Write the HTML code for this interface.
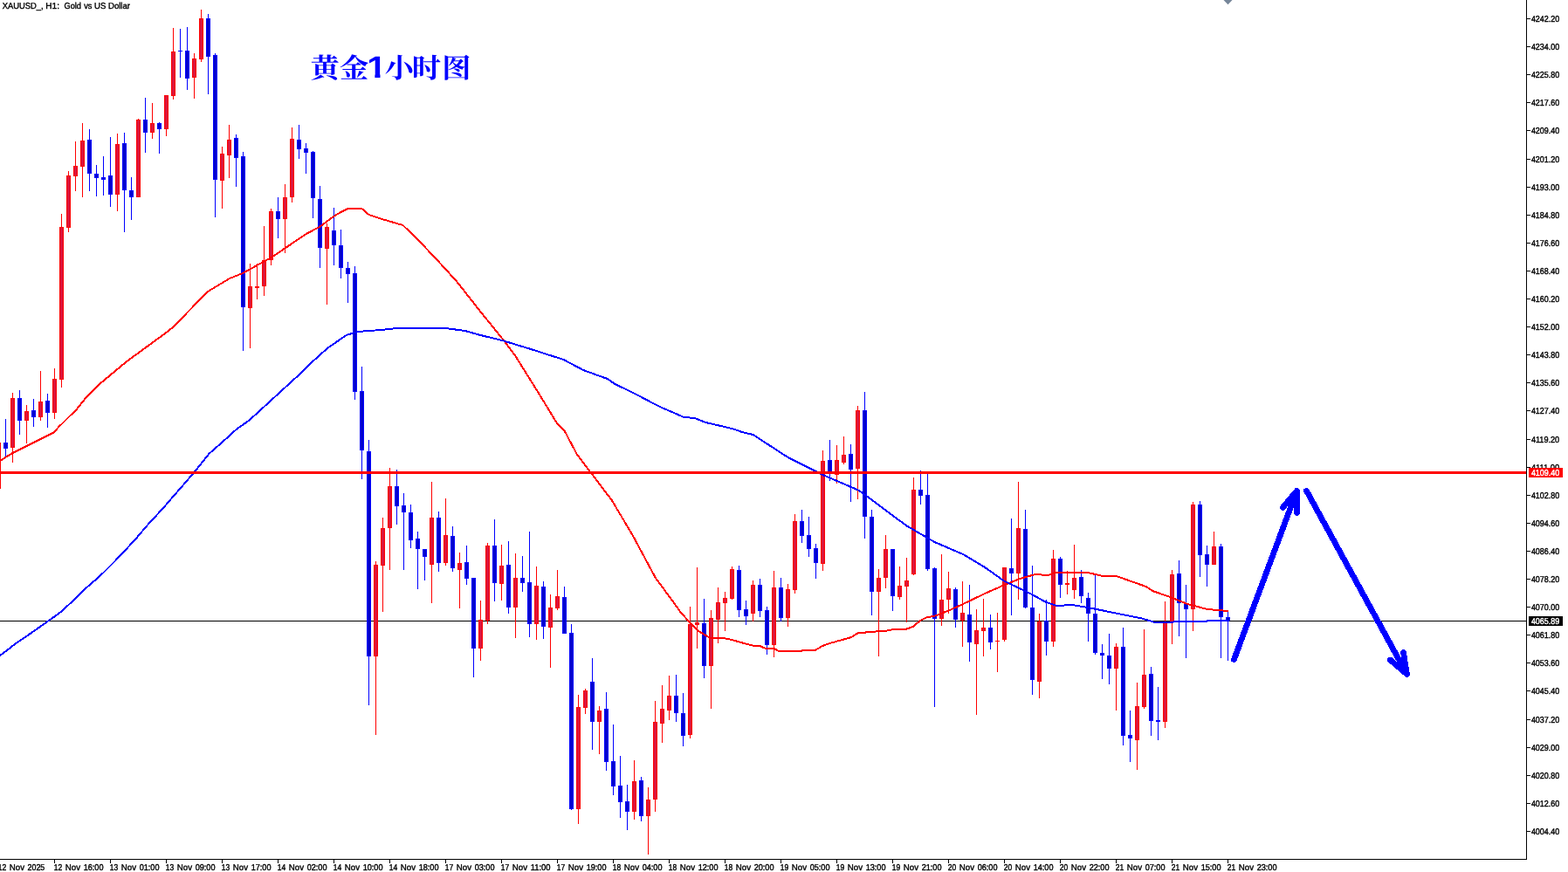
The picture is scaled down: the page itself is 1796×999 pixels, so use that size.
<!DOCTYPE html>
<html lang="zh"><head><meta charset="utf-8"><title>XAUUSD_, H1: Gold vs US Dollar</title>
<style>html,body{margin:0;padding:0;background:#fff;overflow:hidden}body{width:1796px;height:999px}svg{display:block}text{font-family:"Liberation Sans","Noto Sans CJK SC",sans-serif;text-rendering:geometricPrecision}.s{font-size:10px;stroke-width:0.4px}.k{fill:#000;stroke:#000}.w{fill:#fff;stroke:#fff}.c{font-family:"Noto Serif CJK SC","Liberation Sans",serif;font-weight:700;font-size:31.3px;fill:#00f}.r{fill:#f00}.rf{fill:#dc143c}.b{fill:#00f}.bf{fill:#0000cd}</style></head><body>
<svg width="1796" height="999" viewBox="0 0 1796 999">
<rect width="1796" height="999" fill="#fff"/>
<rect x="0" y="711" width="1748" height="1" fill="#000"/>
<g id="candles" shape-rendering="crispEdges">
<rect class="r" x="-4" y="507" width="5" height="53"/>
<rect class="rf" x="-3" y="508" width="3" height="51"/>
<rect class="b" x="6" y="480" width="1" height="44"/>
<rect class="b" x="4" y="507" width="5" height="7"/>
<rect class="bf" x="5" y="508" width="3" height="5"/>
<rect class="r" x="14" y="450" width="1" height="80"/>
<rect class="r" x="12" y="456" width="5" height="57"/>
<rect class="rf" x="13" y="457" width="3" height="55"/>
<rect class="b" x="22" y="447" width="1" height="51"/>
<rect class="b" x="20" y="456" width="5" height="26"/>
<rect class="bf" x="21" y="457" width="3" height="24"/>
<rect class="r" x="30" y="464" width="1" height="44"/>
<rect class="r" x="28" y="471" width="5" height="11"/>
<rect class="rf" x="29" y="472" width="3" height="9"/>
<rect class="b" x="38" y="457" width="1" height="32"/>
<rect class="b" x="36" y="470" width="5" height="8"/>
<rect class="bf" x="37" y="471" width="3" height="6"/>
<rect class="r" x="46" y="425" width="1" height="57"/>
<rect class="r" x="44" y="460" width="5" height="18"/>
<rect class="rf" x="45" y="461" width="3" height="16"/>
<rect class="b" x="54" y="451" width="1" height="39"/>
<rect class="b" x="52" y="459" width="5" height="14"/>
<rect class="bf" x="53" y="460" width="3" height="12"/>
<rect class="r" x="62" y="422" width="1" height="58"/>
<rect class="r" x="60" y="434" width="5" height="39"/>
<rect class="rf" x="61" y="435" width="3" height="37"/>
<rect class="r" x="70" y="245" width="1" height="199"/>
<rect class="r" x="68" y="260" width="5" height="175"/>
<rect class="rf" x="69" y="261" width="3" height="173"/>
<rect class="r" x="78" y="196" width="1" height="70"/>
<rect class="r" x="76" y="201" width="5" height="60"/>
<rect class="rf" x="77" y="202" width="3" height="58"/>
<rect class="r" x="86" y="162" width="1" height="57"/>
<rect class="r" x="84" y="190" width="5" height="12"/>
<rect class="rf" x="85" y="191" width="3" height="10"/>
<rect class="r" x="94" y="141" width="1" height="85"/>
<rect class="r" x="92" y="161" width="5" height="30"/>
<rect class="rf" x="93" y="162" width="3" height="28"/>
<rect class="b" x="102" y="148" width="1" height="71"/>
<rect class="b" x="100" y="160" width="5" height="39"/>
<rect class="bf" x="101" y="161" width="3" height="37"/>
<rect class="b" x="110" y="189" width="1" height="36"/>
<rect class="b" x="108" y="199" width="5" height="5"/>
<rect class="bf" x="109" y="200" width="3" height="3"/>
<rect class="b" x="118" y="179" width="1" height="45"/>
<rect class="b" x="116" y="203" width="5" height="3"/>
<rect class="bf" x="117" y="204" width="3" height="1"/>
<rect class="b" x="126" y="157" width="1" height="80"/>
<rect class="b" x="124" y="201" width="5" height="22"/>
<rect class="bf" x="125" y="202" width="3" height="20"/>
<rect class="r" x="134" y="153" width="1" height="89"/>
<rect class="r" x="132" y="165" width="5" height="58"/>
<rect class="rf" x="133" y="166" width="3" height="56"/>
<rect class="b" x="142" y="152" width="1" height="114"/>
<rect class="b" x="140" y="164" width="5" height="54"/>
<rect class="bf" x="141" y="165" width="3" height="52"/>
<rect class="b" x="150" y="203" width="1" height="49"/>
<rect class="b" x="148" y="218" width="5" height="8"/>
<rect class="bf" x="149" y="219" width="3" height="6"/>
<rect class="r" x="158" y="136" width="1" height="90"/>
<rect class="r" x="156" y="137" width="5" height="89"/>
<rect class="rf" x="157" y="138" width="3" height="87"/>
<rect class="b" x="166" y="112" width="1" height="63"/>
<rect class="b" x="164" y="137" width="5" height="15"/>
<rect class="bf" x="165" y="138" width="3" height="13"/>
<rect class="r" x="174" y="118" width="1" height="41"/>
<rect class="r" x="172" y="141" width="5" height="11"/>
<rect class="rf" x="173" y="142" width="3" height="9"/>
<rect class="b" x="182" y="140" width="1" height="36"/>
<rect class="b" x="180" y="141" width="5" height="7"/>
<rect class="bf" x="181" y="142" width="3" height="5"/>
<rect class="r" x="190" y="109" width="1" height="47"/>
<rect class="r" x="188" y="109" width="5" height="39"/>
<rect class="rf" x="189" y="110" width="3" height="37"/>
<rect class="r" x="198" y="32" width="1" height="82"/>
<rect class="r" x="196" y="59" width="5" height="51"/>
<rect class="rf" x="197" y="60" width="3" height="49"/>
<rect class="b" x="206" y="33" width="1" height="56"/>
<rect class="b" x="204" y="58" width="5" height="1"/>
<rect class="b" x="214" y="31" width="1" height="72"/>
<rect class="b" x="212" y="58" width="5" height="32"/>
<rect class="bf" x="213" y="59" width="3" height="30"/>
<rect class="r" x="222" y="61" width="1" height="52"/>
<rect class="r" x="220" y="67" width="5" height="22"/>
<rect class="rf" x="221" y="68" width="3" height="20"/>
<rect class="r" x="230" y="11" width="1" height="60"/>
<rect class="r" x="228" y="21" width="5" height="47"/>
<rect class="rf" x="229" y="22" width="3" height="45"/>
<rect class="b" x="238" y="16" width="1" height="92"/>
<rect class="b" x="236" y="21" width="5" height="44"/>
<rect class="bf" x="237" y="22" width="3" height="42"/>
<rect class="b" x="246" y="61" width="1" height="188"/>
<rect class="b" x="244" y="63" width="5" height="143"/>
<rect class="bf" x="245" y="64" width="3" height="141"/>
<rect class="r" x="254" y="168" width="1" height="71"/>
<rect class="r" x="252" y="176" width="5" height="31"/>
<rect class="rf" x="253" y="177" width="3" height="29"/>
<rect class="r" x="262" y="143" width="1" height="61"/>
<rect class="r" x="260" y="160" width="5" height="18"/>
<rect class="rf" x="261" y="161" width="3" height="16"/>
<rect class="b" x="270" y="154" width="1" height="60"/>
<rect class="b" x="268" y="158" width="5" height="23"/>
<rect class="bf" x="269" y="159" width="3" height="21"/>
<rect class="b" x="278" y="174" width="1" height="228"/>
<rect class="b" x="276" y="179" width="5" height="173"/>
<rect class="bf" x="277" y="180" width="3" height="171"/>
<rect class="r" x="286" y="302" width="1" height="97"/>
<rect class="r" x="284" y="328" width="5" height="25"/>
<rect class="rf" x="285" y="329" width="3" height="23"/>
<rect class="r" x="294" y="302" width="1" height="41"/>
<rect class="r" x="292" y="328" width="5" height="2"/>
<rect class="r" x="302" y="259" width="1" height="80"/>
<rect class="r" x="300" y="298" width="5" height="30"/>
<rect class="rf" x="301" y="299" width="3" height="28"/>
<rect class="r" x="310" y="239" width="1" height="65"/>
<rect class="r" x="308" y="242" width="5" height="56"/>
<rect class="rf" x="309" y="243" width="3" height="54"/>
<rect class="b" x="318" y="226" width="1" height="47"/>
<rect class="b" x="316" y="242" width="5" height="9"/>
<rect class="bf" x="317" y="243" width="3" height="7"/>
<rect class="r" x="326" y="211" width="1" height="79"/>
<rect class="r" x="324" y="226" width="5" height="25"/>
<rect class="rf" x="325" y="227" width="3" height="23"/>
<rect class="r" x="334" y="146" width="1" height="86"/>
<rect class="r" x="332" y="159" width="5" height="67"/>
<rect class="rf" x="333" y="160" width="3" height="65"/>
<rect class="b" x="342" y="143" width="1" height="39"/>
<rect class="b" x="340" y="160" width="5" height="11"/>
<rect class="bf" x="341" y="161" width="3" height="9"/>
<rect class="b" x="350" y="164" width="1" height="35"/>
<rect class="b" x="348" y="170" width="5" height="5"/>
<rect class="bf" x="349" y="171" width="3" height="3"/>
<rect class="b" x="358" y="173" width="1" height="77"/>
<rect class="b" x="356" y="174" width="5" height="53"/>
<rect class="bf" x="357" y="175" width="3" height="51"/>
<rect class="b" x="366" y="213" width="1" height="94"/>
<rect class="b" x="364" y="228" width="5" height="56"/>
<rect class="bf" x="365" y="229" width="3" height="54"/>
<rect class="r" x="374" y="256" width="1" height="93"/>
<rect class="r" x="372" y="260" width="5" height="25"/>
<rect class="rf" x="373" y="261" width="3" height="23"/>
<rect class="b" x="382" y="238" width="1" height="66"/>
<rect class="b" x="380" y="264" width="5" height="17"/>
<rect class="bf" x="381" y="265" width="3" height="15"/>
<rect class="b" x="390" y="263" width="1" height="56"/>
<rect class="b" x="388" y="281" width="5" height="26"/>
<rect class="bf" x="389" y="282" width="3" height="24"/>
<rect class="b" x="398" y="300" width="1" height="47"/>
<rect class="b" x="396" y="307" width="5" height="7"/>
<rect class="bf" x="397" y="308" width="3" height="5"/>
<rect class="b" x="406" y="305" width="1" height="153"/>
<rect class="b" x="404" y="313" width="5" height="136"/>
<rect class="bf" x="405" y="314" width="3" height="134"/>
<rect class="b" x="414" y="420" width="1" height="129"/>
<rect class="b" x="412" y="448" width="5" height="68"/>
<rect class="bf" x="413" y="449" width="3" height="66"/>
<rect class="b" x="422" y="504" width="1" height="304"/>
<rect class="b" x="420" y="517" width="5" height="235"/>
<rect class="bf" x="421" y="518" width="3" height="233"/>
<rect class="r" x="430" y="643" width="1" height="199"/>
<rect class="r" x="428" y="647" width="5" height="105"/>
<rect class="rf" x="429" y="648" width="3" height="103"/>
<rect class="r" x="438" y="593" width="1" height="108"/>
<rect class="r" x="436" y="605" width="5" height="43"/>
<rect class="rf" x="437" y="606" width="3" height="41"/>
<rect class="r" x="446" y="536" width="1" height="117"/>
<rect class="r" x="444" y="557" width="5" height="48"/>
<rect class="rf" x="445" y="558" width="3" height="46"/>
<rect class="b" x="454" y="538" width="1" height="63"/>
<rect class="b" x="452" y="557" width="5" height="23"/>
<rect class="bf" x="453" y="558" width="3" height="21"/>
<rect class="b" x="462" y="565" width="1" height="88"/>
<rect class="b" x="460" y="579" width="5" height="8"/>
<rect class="bf" x="461" y="580" width="3" height="6"/>
<rect class="b" x="470" y="578" width="1" height="50"/>
<rect class="b" x="468" y="587" width="5" height="32"/>
<rect class="bf" x="469" y="588" width="3" height="30"/>
<rect class="b" x="478" y="609" width="1" height="66"/>
<rect class="b" x="476" y="617" width="5" height="12"/>
<rect class="bf" x="477" y="618" width="3" height="10"/>
<rect class="b" x="486" y="629" width="1" height="36"/>
<rect class="b" x="484" y="629" width="5" height="9"/>
<rect class="bf" x="485" y="630" width="3" height="7"/>
<rect class="r" x="494" y="552" width="1" height="139"/>
<rect class="r" x="492" y="593" width="5" height="54"/>
<rect class="rf" x="493" y="594" width="3" height="52"/>
<rect class="b" x="502" y="586" width="1" height="69"/>
<rect class="b" x="500" y="593" width="5" height="52"/>
<rect class="bf" x="501" y="594" width="3" height="50"/>
<rect class="r" x="510" y="571" width="1" height="77"/>
<rect class="r" x="508" y="613" width="5" height="32"/>
<rect class="rf" x="509" y="614" width="3" height="30"/>
<rect class="b" x="518" y="603" width="1" height="52"/>
<rect class="b" x="516" y="614" width="5" height="37"/>
<rect class="bf" x="517" y="615" width="3" height="35"/>
<rect class="r" x="526" y="633" width="1" height="64"/>
<rect class="r" x="524" y="645" width="5" height="8"/>
<rect class="rf" x="525" y="646" width="3" height="6"/>
<rect class="b" x="534" y="625" width="1" height="45"/>
<rect class="b" x="532" y="644" width="5" height="19"/>
<rect class="bf" x="533" y="645" width="3" height="17"/>
<rect class="b" x="542" y="662" width="1" height="114"/>
<rect class="b" x="540" y="662" width="5" height="81"/>
<rect class="bf" x="541" y="663" width="3" height="79"/>
<rect class="r" x="550" y="688" width="1" height="69"/>
<rect class="r" x="548" y="710" width="5" height="33"/>
<rect class="rf" x="549" y="711" width="3" height="31"/>
<rect class="r" x="558" y="622" width="1" height="93"/>
<rect class="r" x="556" y="625" width="5" height="86"/>
<rect class="rf" x="557" y="626" width="3" height="84"/>
<rect class="b" x="566" y="595" width="1" height="94"/>
<rect class="b" x="564" y="625" width="5" height="43"/>
<rect class="bf" x="565" y="626" width="3" height="41"/>
<rect class="r" x="574" y="624" width="1" height="64"/>
<rect class="r" x="572" y="648" width="5" height="21"/>
<rect class="rf" x="573" y="649" width="3" height="19"/>
<rect class="b" x="582" y="620" width="1" height="83"/>
<rect class="b" x="580" y="647" width="5" height="49"/>
<rect class="bf" x="581" y="648" width="3" height="47"/>
<rect class="r" x="590" y="634" width="1" height="97"/>
<rect class="r" x="588" y="662" width="5" height="34"/>
<rect class="rf" x="589" y="663" width="3" height="32"/>
<rect class="b" x="598" y="637" width="1" height="41"/>
<rect class="b" x="596" y="662" width="5" height="6"/>
<rect class="bf" x="597" y="663" width="3" height="4"/>
<rect class="b" x="606" y="609" width="1" height="121"/>
<rect class="b" x="604" y="667" width="5" height="48"/>
<rect class="bf" x="605" y="668" width="3" height="46"/>
<rect class="r" x="614" y="649" width="1" height="84"/>
<rect class="r" x="612" y="671" width="5" height="44"/>
<rect class="rf" x="613" y="672" width="3" height="42"/>
<rect class="b" x="622" y="666" width="1" height="66"/>
<rect class="b" x="620" y="672" width="5" height="46"/>
<rect class="bf" x="621" y="673" width="3" height="44"/>
<rect class="r" x="630" y="681" width="1" height="84"/>
<rect class="r" x="628" y="696" width="5" height="23"/>
<rect class="rf" x="629" y="697" width="3" height="21"/>
<rect class="r" x="638" y="653" width="1" height="46"/>
<rect class="r" x="636" y="683" width="5" height="14"/>
<rect class="rf" x="637" y="684" width="3" height="12"/>
<rect class="b" x="646" y="672" width="1" height="54"/>
<rect class="b" x="644" y="684" width="5" height="42"/>
<rect class="bf" x="645" y="685" width="3" height="40"/>
<rect class="b" x="654" y="715" width="1" height="213"/>
<rect class="b" x="652" y="725" width="5" height="202"/>
<rect class="bf" x="653" y="726" width="3" height="200"/>
<rect class="r" x="662" y="796" width="1" height="148"/>
<rect class="r" x="660" y="810" width="5" height="117"/>
<rect class="rf" x="661" y="811" width="3" height="115"/>
<rect class="r" x="670" y="789" width="1" height="29"/>
<rect class="r" x="668" y="791" width="5" height="20"/>
<rect class="rf" x="669" y="792" width="3" height="18"/>
<rect class="b" x="678" y="754" width="1" height="105"/>
<rect class="b" x="676" y="781" width="5" height="46"/>
<rect class="bf" x="677" y="782" width="3" height="44"/>
<rect class="r" x="686" y="809" width="1" height="55"/>
<rect class="r" x="684" y="814" width="5" height="13"/>
<rect class="rf" x="685" y="815" width="3" height="11"/>
<rect class="b" x="694" y="793" width="1" height="90"/>
<rect class="b" x="692" y="812" width="5" height="61"/>
<rect class="bf" x="693" y="813" width="3" height="59"/>
<rect class="b" x="702" y="830" width="1" height="81"/>
<rect class="b" x="700" y="872" width="5" height="29"/>
<rect class="bf" x="701" y="873" width="3" height="27"/>
<rect class="b" x="710" y="866" width="1" height="71"/>
<rect class="b" x="708" y="900" width="5" height="19"/>
<rect class="bf" x="709" y="901" width="3" height="17"/>
<rect class="b" x="718" y="899" width="1" height="52"/>
<rect class="b" x="716" y="918" width="5" height="12"/>
<rect class="bf" x="717" y="919" width="3" height="10"/>
<rect class="r" x="726" y="871" width="1" height="68"/>
<rect class="r" x="724" y="895" width="5" height="35"/>
<rect class="rf" x="725" y="896" width="3" height="33"/>
<rect class="b" x="734" y="890" width="1" height="51"/>
<rect class="b" x="732" y="894" width="5" height="41"/>
<rect class="bf" x="733" y="895" width="3" height="39"/>
<rect class="r" x="742" y="902" width="1" height="77"/>
<rect class="r" x="740" y="916" width="5" height="19"/>
<rect class="rf" x="741" y="917" width="3" height="17"/>
<rect class="r" x="750" y="803" width="1" height="127"/>
<rect class="r" x="748" y="827" width="5" height="89"/>
<rect class="rf" x="749" y="828" width="3" height="87"/>
<rect class="r" x="758" y="785" width="1" height="66"/>
<rect class="r" x="756" y="812" width="5" height="17"/>
<rect class="rf" x="757" y="813" width="3" height="15"/>
<rect class="r" x="766" y="774" width="1" height="51"/>
<rect class="r" x="764" y="797" width="5" height="17"/>
<rect class="rf" x="765" y="798" width="3" height="15"/>
<rect class="b" x="774" y="773" width="1" height="54"/>
<rect class="b" x="772" y="797" width="5" height="20"/>
<rect class="bf" x="773" y="798" width="3" height="18"/>
<rect class="b" x="782" y="794" width="1" height="61"/>
<rect class="b" x="780" y="817" width="5" height="26"/>
<rect class="bf" x="781" y="818" width="3" height="24"/>
<rect class="r" x="790" y="695" width="1" height="151"/>
<rect class="r" x="788" y="715" width="5" height="127"/>
<rect class="rf" x="789" y="716" width="3" height="125"/>
<rect class="r" x="798" y="650" width="1" height="93"/>
<rect class="r" x="796" y="713" width="5" height="3"/>
<rect class="rf" x="797" y="714" width="3" height="1"/>
<rect class="b" x="806" y="686" width="1" height="91"/>
<rect class="b" x="804" y="714" width="5" height="49"/>
<rect class="bf" x="805" y="715" width="3" height="47"/>
<rect class="r" x="814" y="699" width="1" height="113"/>
<rect class="r" x="812" y="708" width="5" height="55"/>
<rect class="rf" x="813" y="709" width="3" height="53"/>
<rect class="r" x="822" y="673" width="1" height="64"/>
<rect class="r" x="820" y="690" width="5" height="20"/>
<rect class="rf" x="821" y="691" width="3" height="18"/>
<rect class="r" x="830" y="678" width="1" height="45"/>
<rect class="r" x="828" y="685" width="5" height="6"/>
<rect class="rf" x="829" y="686" width="3" height="4"/>
<rect class="r" x="838" y="649" width="1" height="38"/>
<rect class="r" x="836" y="652" width="5" height="34"/>
<rect class="rf" x="837" y="653" width="3" height="32"/>
<rect class="b" x="846" y="648" width="1" height="59"/>
<rect class="b" x="844" y="653" width="5" height="46"/>
<rect class="bf" x="845" y="654" width="3" height="44"/>
<rect class="b" x="854" y="688" width="1" height="28"/>
<rect class="b" x="852" y="698" width="5" height="8"/>
<rect class="bf" x="853" y="699" width="3" height="6"/>
<rect class="r" x="862" y="665" width="1" height="47"/>
<rect class="r" x="860" y="670" width="5" height="33"/>
<rect class="rf" x="861" y="671" width="3" height="31"/>
<rect class="b" x="870" y="663" width="1" height="44"/>
<rect class="b" x="868" y="670" width="5" height="30"/>
<rect class="bf" x="869" y="671" width="3" height="28"/>
<rect class="b" x="878" y="695" width="1" height="55"/>
<rect class="b" x="876" y="699" width="5" height="40"/>
<rect class="bf" x="877" y="700" width="3" height="38"/>
<rect class="r" x="886" y="654" width="1" height="99"/>
<rect class="r" x="884" y="673" width="5" height="66"/>
<rect class="rf" x="885" y="674" width="3" height="64"/>
<rect class="b" x="894" y="662" width="1" height="50"/>
<rect class="b" x="892" y="673" width="5" height="35"/>
<rect class="bf" x="893" y="674" width="3" height="33"/>
<rect class="r" x="902" y="669" width="1" height="49"/>
<rect class="r" x="900" y="675" width="5" height="33"/>
<rect class="rf" x="901" y="676" width="3" height="31"/>
<rect class="r" x="910" y="589" width="1" height="91"/>
<rect class="r" x="908" y="597" width="5" height="79"/>
<rect class="rf" x="909" y="598" width="3" height="77"/>
<rect class="b" x="918" y="584" width="1" height="38"/>
<rect class="b" x="916" y="597" width="5" height="17"/>
<rect class="bf" x="917" y="598" width="3" height="15"/>
<rect class="b" x="926" y="592" width="1" height="46"/>
<rect class="b" x="924" y="613" width="5" height="16"/>
<rect class="bf" x="925" y="614" width="3" height="14"/>
<rect class="b" x="934" y="623" width="1" height="40"/>
<rect class="b" x="932" y="628" width="5" height="17"/>
<rect class="bf" x="933" y="629" width="3" height="15"/>
<rect class="r" x="942" y="516" width="1" height="138"/>
<rect class="r" x="940" y="528" width="5" height="118"/>
<rect class="rf" x="941" y="529" width="3" height="116"/>
<rect class="b" x="950" y="504" width="1" height="47"/>
<rect class="b" x="948" y="527" width="5" height="15"/>
<rect class="bf" x="949" y="528" width="3" height="13"/>
<rect class="r" x="958" y="510" width="1" height="44"/>
<rect class="r" x="956" y="527" width="5" height="17"/>
<rect class="rf" x="957" y="528" width="3" height="15"/>
<rect class="r" x="966" y="500" width="1" height="32"/>
<rect class="r" x="964" y="521" width="5" height="9"/>
<rect class="rf" x="965" y="522" width="3" height="7"/>
<rect class="b" x="974" y="509" width="1" height="66"/>
<rect class="b" x="972" y="520" width="5" height="18"/>
<rect class="bf" x="973" y="521" width="3" height="16"/>
<rect class="r" x="982" y="465" width="1" height="107"/>
<rect class="r" x="980" y="470" width="5" height="67"/>
<rect class="rf" x="981" y="471" width="3" height="65"/>
<rect class="b" x="990" y="449" width="1" height="168"/>
<rect class="b" x="988" y="470" width="5" height="122"/>
<rect class="bf" x="989" y="471" width="3" height="120"/>
<rect class="b" x="998" y="584" width="1" height="121"/>
<rect class="b" x="996" y="592" width="5" height="86"/>
<rect class="bf" x="997" y="593" width="3" height="84"/>
<rect class="r" x="1006" y="652" width="1" height="100"/>
<rect class="r" x="1004" y="662" width="5" height="16"/>
<rect class="rf" x="1005" y="663" width="3" height="14"/>
<rect class="r" x="1014" y="613" width="1" height="61"/>
<rect class="r" x="1012" y="629" width="5" height="33"/>
<rect class="rf" x="1013" y="630" width="3" height="31"/>
<rect class="b" x="1022" y="629" width="1" height="71"/>
<rect class="b" x="1020" y="629" width="5" height="54"/>
<rect class="bf" x="1021" y="630" width="3" height="52"/>
<rect class="r" x="1030" y="649" width="1" height="38"/>
<rect class="r" x="1028" y="671" width="5" height="13"/>
<rect class="rf" x="1029" y="672" width="3" height="11"/>
<rect class="r" x="1038" y="639" width="1" height="74"/>
<rect class="r" x="1036" y="665" width="5" height="7"/>
<rect class="rf" x="1037" y="666" width="3" height="5"/>
<rect class="r" x="1046" y="547" width="1" height="112"/>
<rect class="r" x="1044" y="561" width="5" height="97"/>
<rect class="rf" x="1045" y="562" width="3" height="95"/>
<rect class="b" x="1054" y="539" width="1" height="39"/>
<rect class="b" x="1052" y="561" width="5" height="7"/>
<rect class="bf" x="1053" y="562" width="3" height="5"/>
<rect class="b" x="1062" y="543" width="1" height="111"/>
<rect class="b" x="1060" y="567" width="5" height="85"/>
<rect class="bf" x="1061" y="568" width="3" height="83"/>
<rect class="b" x="1070" y="650" width="1" height="160"/>
<rect class="b" x="1068" y="651" width="5" height="58"/>
<rect class="bf" x="1069" y="652" width="3" height="56"/>
<rect class="r" x="1078" y="635" width="1" height="82"/>
<rect class="r" x="1076" y="687" width="5" height="22"/>
<rect class="rf" x="1077" y="688" width="3" height="20"/>
<rect class="r" x="1086" y="655" width="1" height="48"/>
<rect class="r" x="1084" y="674" width="5" height="13"/>
<rect class="rf" x="1085" y="675" width="3" height="11"/>
<rect class="b" x="1094" y="673" width="1" height="46"/>
<rect class="b" x="1092" y="675" width="5" height="35"/>
<rect class="bf" x="1093" y="676" width="3" height="33"/>
<rect class="r" x="1102" y="666" width="1" height="75"/>
<rect class="r" x="1100" y="702" width="5" height="9"/>
<rect class="rf" x="1101" y="703" width="3" height="7"/>
<rect class="b" x="1110" y="670" width="1" height="88"/>
<rect class="b" x="1108" y="704" width="5" height="32"/>
<rect class="bf" x="1109" y="705" width="3" height="30"/>
<rect class="r" x="1118" y="698" width="1" height="121"/>
<rect class="r" x="1116" y="722" width="5" height="16"/>
<rect class="rf" x="1117" y="723" width="3" height="14"/>
<rect class="r" x="1126" y="686" width="1" height="66"/>
<rect class="r" x="1124" y="719" width="5" height="4"/>
<rect class="rf" x="1125" y="720" width="3" height="2"/>
<rect class="b" x="1134" y="704" width="1" height="40"/>
<rect class="b" x="1132" y="719" width="5" height="17"/>
<rect class="bf" x="1133" y="720" width="3" height="15"/>
<rect class="r" x="1142" y="702" width="1" height="68"/>
<rect class="r" x="1140" y="734" width="5" height="1"/>
<rect class="r" x="1150" y="650" width="1" height="85"/>
<rect class="r" x="1148" y="650" width="5" height="83"/>
<rect class="rf" x="1149" y="651" width="3" height="81"/>
<rect class="b" x="1158" y="594" width="1" height="111"/>
<rect class="b" x="1156" y="651" width="5" height="6"/>
<rect class="bf" x="1157" y="652" width="3" height="4"/>
<rect class="r" x="1166" y="552" width="1" height="135"/>
<rect class="r" x="1164" y="605" width="5" height="52"/>
<rect class="rf" x="1165" y="606" width="3" height="50"/>
<rect class="b" x="1174" y="584" width="1" height="113"/>
<rect class="b" x="1172" y="606" width="5" height="90"/>
<rect class="bf" x="1173" y="607" width="3" height="88"/>
<rect class="b" x="1182" y="648" width="1" height="148"/>
<rect class="b" x="1180" y="696" width="5" height="83"/>
<rect class="bf" x="1181" y="697" width="3" height="81"/>
<rect class="r" x="1190" y="703" width="1" height="97"/>
<rect class="r" x="1188" y="712" width="5" height="69"/>
<rect class="rf" x="1189" y="713" width="3" height="67"/>
<rect class="b" x="1198" y="687" width="1" height="64"/>
<rect class="b" x="1196" y="711" width="5" height="24"/>
<rect class="bf" x="1197" y="712" width="3" height="22"/>
<rect class="r" x="1206" y="630" width="1" height="111"/>
<rect class="r" x="1204" y="640" width="5" height="95"/>
<rect class="rf" x="1205" y="641" width="3" height="93"/>
<rect class="b" x="1214" y="638" width="1" height="47"/>
<rect class="b" x="1212" y="640" width="5" height="30"/>
<rect class="bf" x="1213" y="641" width="3" height="28"/>
<rect class="r" x="1222" y="654" width="1" height="27"/>
<rect class="r" x="1220" y="668" width="5" height="2"/>
<rect class="r" x="1230" y="624" width="1" height="62"/>
<rect class="r" x="1228" y="662" width="5" height="14"/>
<rect class="rf" x="1229" y="663" width="3" height="12"/>
<rect class="b" x="1238" y="653" width="1" height="38"/>
<rect class="b" x="1236" y="661" width="5" height="22"/>
<rect class="bf" x="1237" y="662" width="3" height="20"/>
<rect class="b" x="1246" y="679" width="1" height="56"/>
<rect class="b" x="1244" y="685" width="5" height="18"/>
<rect class="bf" x="1245" y="686" width="3" height="16"/>
<rect class="b" x="1254" y="658" width="1" height="92"/>
<rect class="b" x="1252" y="703" width="5" height="45"/>
<rect class="bf" x="1253" y="704" width="3" height="43"/>
<rect class="b" x="1262" y="738" width="1" height="40"/>
<rect class="b" x="1260" y="748" width="5" height="3"/>
<rect class="bf" x="1261" y="749" width="3" height="1"/>
<rect class="b" x="1270" y="726" width="1" height="58"/>
<rect class="b" x="1268" y="751" width="5" height="15"/>
<rect class="bf" x="1269" y="752" width="3" height="13"/>
<rect class="r" x="1278" y="737" width="1" height="77"/>
<rect class="r" x="1276" y="741" width="5" height="25"/>
<rect class="rf" x="1277" y="742" width="3" height="23"/>
<rect class="b" x="1286" y="719" width="1" height="135"/>
<rect class="b" x="1284" y="741" width="5" height="102"/>
<rect class="bf" x="1285" y="742" width="3" height="100"/>
<rect class="b" x="1294" y="814" width="1" height="59"/>
<rect class="b" x="1292" y="842" width="5" height="4"/>
<rect class="bf" x="1293" y="843" width="3" height="2"/>
<rect class="r" x="1302" y="782" width="1" height="100"/>
<rect class="r" x="1300" y="809" width="5" height="39"/>
<rect class="rf" x="1301" y="810" width="3" height="37"/>
<rect class="r" x="1310" y="721" width="1" height="91"/>
<rect class="r" x="1308" y="773" width="5" height="37"/>
<rect class="rf" x="1309" y="774" width="3" height="35"/>
<rect class="b" x="1318" y="764" width="1" height="79"/>
<rect class="b" x="1316" y="772" width="5" height="54"/>
<rect class="bf" x="1317" y="773" width="3" height="52"/>
<rect class="b" x="1326" y="787" width="1" height="61"/>
<rect class="b" x="1324" y="825" width="5" height="2"/>
<rect class="r" x="1334" y="689" width="1" height="145"/>
<rect class="r" x="1332" y="713" width="5" height="114"/>
<rect class="rf" x="1333" y="714" width="3" height="112"/>
<rect class="r" x="1342" y="653" width="1" height="85"/>
<rect class="r" x="1340" y="658" width="5" height="55"/>
<rect class="rf" x="1341" y="659" width="3" height="53"/>
<rect class="b" x="1350" y="642" width="1" height="87"/>
<rect class="b" x="1348" y="657" width="5" height="34"/>
<rect class="bf" x="1349" y="658" width="3" height="32"/>
<rect class="b" x="1358" y="670" width="1" height="84"/>
<rect class="b" x="1356" y="691" width="5" height="7"/>
<rect class="bf" x="1357" y="692" width="3" height="5"/>
<rect class="r" x="1366" y="575" width="1" height="148"/>
<rect class="r" x="1364" y="578" width="5" height="120"/>
<rect class="rf" x="1365" y="579" width="3" height="118"/>
<rect class="b" x="1374" y="574" width="1" height="87"/>
<rect class="b" x="1372" y="578" width="5" height="58"/>
<rect class="bf" x="1373" y="579" width="3" height="56"/>
<rect class="b" x="1382" y="625" width="1" height="47"/>
<rect class="b" x="1380" y="635" width="5" height="12"/>
<rect class="bf" x="1381" y="636" width="3" height="10"/>
<rect class="r" x="1390" y="609" width="1" height="38"/>
<rect class="r" x="1388" y="626" width="5" height="21"/>
<rect class="rf" x="1389" y="627" width="3" height="19"/>
<rect class="b" x="1398" y="623" width="1" height="131"/>
<rect class="b" x="1396" y="626" width="5" height="81"/>
<rect class="bf" x="1397" y="627" width="3" height="79"/>
<rect class="b" x="1406" y="699" width="1" height="58"/>
<rect class="b" x="1404" y="707" width="5" height="4"/>
<rect class="bf" x="1405" y="708" width="3" height="2"/>
</g>
<polyline fill="none" stroke="#f00" stroke-width="2" stroke-linejoin="round" shape-rendering="crispEdges" points="-2,529 0,528 14.3,519 62.4,495 66.4,490 87.7,469 99,455 114,440 145.3,414 190.4,381 198,375 238,334 263,319 278,313 310.7,295 350.8,268 365.8,260 374,254 382,248 390.4,243 398.6,239 414.5,239 422.5,246 437.6,251 461.4,258 475.2,271 499,296 522.8,322 550.3,357 575.4,388 590.4,408 610.5,440 616.7,450 638,485 646.8,494 660.6,520 675.6,540 700.7,573 724.5,613 750.8,662 770,688 780,702 790,713 800.1,723 810.1,729 813.4,731 828.5,731 838.5,733 848.5,736 863.5,740 870.2,740 876.9,743 886.9,743 891.9,746 917.8,746 919.5,745 933.7,745 942,740 950.4,737 975.4,730 983,725 990.5,725 992.1,724 1013.9,723 1023.9,721 1037.2,721 1045.6,718 1054,711 1062.3,707 1070,706 1085.5,700 1103.1,692 1128.1,680 1150.7,670 1168.2,663 1185.8,658 1200.8,659 1208.3,656 1220.9,656 1245.9,656 1263.4,660 1278.5,660 1290,664 1312.7,672 1320.2,677 1340.2,684 1360.3,692 1382.8,698 1406.6,700"/>
<polyline fill="none" stroke="#00f" stroke-width="2" stroke-linejoin="round" shape-rendering="crispEdges" points="-2,753 0,751 19.8,736 36,725 55.9,711 68.5,702 82.9,689 98.2,674 114.4,660 130.6,644 154.1,619 170.3,600 185.2,584 210.4,555 222.5,541 239.3,520 258.5,503 271.7,491 284.9,482 298.1,470 322.1,448 346.2,426 359.4,413 375,399 396.6,384 409.8,380 436.2,378 455.1,376 510.2,376 532.8,379 550.3,384 575.4,390 608,400 645.5,412 668.1,424 695.7,434 704.4,440 723.2,449 755.8,466 783.4,478 795.9,479 808.4,484 838.5,491 850,495 862.5,498 902.6,524 940.2,543 984.1,562 1037.9,602 1070.5,621 1103.1,635 1128.1,650 1150.7,666 1178.2,679 1198.3,690 1210.8,694 1228.3,693 1245.9,696 1265.9,700 1290,705 1306,708 1322.7,713 1342.5,713 1346,712 1381,712 1384,711 1408,711"/>
<rect x="0" y="540" width="1748" height="3" fill="#f00"/>
<g fill="none" stroke="#00f" stroke-width="6.7" stroke-linecap="round" stroke-linejoin="round" shape-rendering="crispEdges">
<path d="M1413.4 755.7 L1485.4 562.3"/>
<path d="M1469.4 581.3 L1485.4 562.3 L1485.6 587.4"/>
<path d="M1496.5 562.3 L1611.5 772.4"/>
<path d="M1592.3 756 L1611.5 772.4 L1607.5 747.4"/>
</g>
<path d="M1401.5 0 L1411.5 0 L1406.5 5.2 Z" fill="#768699"/>
<rect x="1748" y="0" width="1" height="985" fill="#000"/>
<rect x="0" y="984" width="1749" height="1" fill="#000"/>
<g class="s k">
<rect x="1749" y="21" width="4" height="1" stroke="none"/>
<text x="1753.9" y="24.95" textLength="32.3" lengthAdjust="spacingAndGlyphs">4242.20</text>
<rect x="1749" y="53" width="4" height="1" stroke="none"/>
<text x="1753.9" y="56.95" textLength="32.3" lengthAdjust="spacingAndGlyphs">4234.00</text>
<rect x="1749" y="85" width="4" height="1" stroke="none"/>
<text x="1753.9" y="88.95" textLength="32.3" lengthAdjust="spacingAndGlyphs">4225.80</text>
<rect x="1749" y="117" width="4" height="1" stroke="none"/>
<text x="1753.9" y="120.95" textLength="32.3" lengthAdjust="spacingAndGlyphs">4217.60</text>
<rect x="1749" y="149" width="4" height="1" stroke="none"/>
<text x="1753.9" y="152.95" textLength="32.3" lengthAdjust="spacingAndGlyphs">4209.40</text>
<rect x="1749" y="182" width="4" height="1" stroke="none"/>
<text x="1753.9" y="185.95" textLength="32.3" lengthAdjust="spacingAndGlyphs">4201.20</text>
<rect x="1749" y="214" width="4" height="1" stroke="none"/>
<text x="1753.9" y="217.95" textLength="32.3" lengthAdjust="spacingAndGlyphs">4193.00</text>
<rect x="1749" y="246" width="4" height="1" stroke="none"/>
<text x="1753.9" y="249.95" textLength="32.3" lengthAdjust="spacingAndGlyphs">4184.80</text>
<rect x="1749" y="278" width="4" height="1" stroke="none"/>
<text x="1753.9" y="281.95" textLength="32.3" lengthAdjust="spacingAndGlyphs">4176.60</text>
<rect x="1749" y="310" width="4" height="1" stroke="none"/>
<text x="1753.9" y="313.95" textLength="32.3" lengthAdjust="spacingAndGlyphs">4168.40</text>
<rect x="1749" y="342" width="4" height="1" stroke="none"/>
<text x="1753.9" y="345.95" textLength="32.3" lengthAdjust="spacingAndGlyphs">4160.20</text>
<rect x="1749" y="374" width="4" height="1" stroke="none"/>
<text x="1753.9" y="377.95" textLength="32.3" lengthAdjust="spacingAndGlyphs">4152.00</text>
<rect x="1749" y="406" width="4" height="1" stroke="none"/>
<text x="1753.9" y="409.95" textLength="32.3" lengthAdjust="spacingAndGlyphs">4143.80</text>
<rect x="1749" y="438" width="4" height="1" stroke="none"/>
<text x="1753.9" y="441.95" textLength="32.3" lengthAdjust="spacingAndGlyphs">4135.60</text>
<rect x="1749" y="470" width="4" height="1" stroke="none"/>
<text x="1753.9" y="473.95" textLength="32.3" lengthAdjust="spacingAndGlyphs">4127.40</text>
<rect x="1749" y="503" width="4" height="1" stroke="none"/>
<text x="1753.9" y="506.95" textLength="32.3" lengthAdjust="spacingAndGlyphs">4119.20</text>
<rect x="1749" y="535" width="4" height="1" stroke="none"/>
<text x="1753.9" y="538.95" textLength="32.3" lengthAdjust="spacingAndGlyphs">4111.00</text>
<rect x="1749" y="567" width="4" height="1" stroke="none"/>
<text x="1753.9" y="570.95" textLength="32.3" lengthAdjust="spacingAndGlyphs">4102.80</text>
<rect x="1749" y="599" width="4" height="1" stroke="none"/>
<text x="1753.9" y="602.95" textLength="32.3" lengthAdjust="spacingAndGlyphs">4094.60</text>
<rect x="1749" y="631" width="4" height="1" stroke="none"/>
<text x="1753.9" y="634.95" textLength="32.3" lengthAdjust="spacingAndGlyphs">4086.40</text>
<rect x="1749" y="663" width="4" height="1" stroke="none"/>
<text x="1753.9" y="666.95" textLength="32.3" lengthAdjust="spacingAndGlyphs">4078.20</text>
<rect x="1749" y="695" width="4" height="1" stroke="none"/>
<text x="1753.9" y="698.95" textLength="32.3" lengthAdjust="spacingAndGlyphs">4070.00</text>
<rect x="1749" y="727" width="4" height="1" stroke="none"/>
<text x="1753.9" y="730.95" textLength="32.3" lengthAdjust="spacingAndGlyphs">4061.80</text>
<rect x="1749" y="759" width="4" height="1" stroke="none"/>
<text x="1753.9" y="762.95" textLength="32.3" lengthAdjust="spacingAndGlyphs">4053.60</text>
<rect x="1749" y="791" width="4" height="1" stroke="none"/>
<text x="1753.9" y="794.95" textLength="32.3" lengthAdjust="spacingAndGlyphs">4045.40</text>
<rect x="1749" y="824" width="4" height="1" stroke="none"/>
<text x="1753.9" y="827.95" textLength="32.3" lengthAdjust="spacingAndGlyphs">4037.20</text>
<rect x="1749" y="856" width="4" height="1" stroke="none"/>
<text x="1753.9" y="859.95" textLength="32.3" lengthAdjust="spacingAndGlyphs">4029.00</text>
<rect x="1749" y="888" width="4" height="1" stroke="none"/>
<text x="1753.9" y="891.95" textLength="32.3" lengthAdjust="spacingAndGlyphs">4020.80</text>
<rect x="1749" y="920" width="4" height="1" stroke="none"/>
<text x="1753.9" y="923.95" textLength="32.3" lengthAdjust="spacingAndGlyphs">4012.60</text>
<rect x="1749" y="952" width="4" height="1" stroke="none"/>
<text x="1753.9" y="955.95" textLength="32.3" lengthAdjust="spacingAndGlyphs">4004.40</text>
</g>
<rect x="1751" y="536" width="39" height="11" fill="#f00"/>
<text class="s w" x="1753.9" y="544.95" textLength="32.3" lengthAdjust="spacingAndGlyphs">4109.40</text>
<rect x="1751" y="706" width="39" height="11" fill="#000"/>
<text class="s w" x="1753.9" y="714.95" textLength="32.3" lengthAdjust="spacingAndGlyphs">4065.89</text>
<g class="s k">
<text x="-2.3" y="996.95" textLength="9.4" lengthAdjust="spacingAndGlyphs">12</text>
<text x="10.8" y="996.95" textLength="17.2" lengthAdjust="spacingAndGlyphs">Nov</text>
<text x="31.5" y="996.95" textLength="19.8" lengthAdjust="spacingAndGlyphs">2025</text>
<rect x="62" y="985" width="1" height="4" stroke="none"/>
<text x="61.7" y="996.95" textLength="9.4" lengthAdjust="spacingAndGlyphs">12</text>
<text x="74.8" y="996.95" textLength="17.2" lengthAdjust="spacingAndGlyphs">Nov</text>
<text x="95.7" y="996.95" textLength="22.8" lengthAdjust="spacingAndGlyphs">16:00</text>
<rect x="126" y="985" width="1" height="4" stroke="none"/>
<text x="125.7" y="996.95" textLength="9.4" lengthAdjust="spacingAndGlyphs">13</text>
<text x="138.8" y="996.95" textLength="17.2" lengthAdjust="spacingAndGlyphs">Nov</text>
<text x="159.7" y="996.95" textLength="22.8" lengthAdjust="spacingAndGlyphs">01:00</text>
<rect x="190" y="985" width="1" height="4" stroke="none"/>
<text x="189.7" y="996.95" textLength="9.4" lengthAdjust="spacingAndGlyphs">13</text>
<text x="202.8" y="996.95" textLength="17.2" lengthAdjust="spacingAndGlyphs">Nov</text>
<text x="223.7" y="996.95" textLength="22.8" lengthAdjust="spacingAndGlyphs">09:00</text>
<rect x="254" y="985" width="1" height="4" stroke="none"/>
<text x="253.7" y="996.95" textLength="9.4" lengthAdjust="spacingAndGlyphs">13</text>
<text x="266.8" y="996.95" textLength="17.2" lengthAdjust="spacingAndGlyphs">Nov</text>
<text x="287.7" y="996.95" textLength="22.8" lengthAdjust="spacingAndGlyphs">17:00</text>
<rect x="318" y="985" width="1" height="4" stroke="none"/>
<text x="317.7" y="996.95" textLength="9.4" lengthAdjust="spacingAndGlyphs">14</text>
<text x="330.8" y="996.95" textLength="17.2" lengthAdjust="spacingAndGlyphs">Nov</text>
<text x="351.7" y="996.95" textLength="22.8" lengthAdjust="spacingAndGlyphs">02:00</text>
<rect x="382" y="985" width="1" height="4" stroke="none"/>
<text x="381.7" y="996.95" textLength="9.4" lengthAdjust="spacingAndGlyphs">14</text>
<text x="394.8" y="996.95" textLength="17.2" lengthAdjust="spacingAndGlyphs">Nov</text>
<text x="415.7" y="996.95" textLength="22.8" lengthAdjust="spacingAndGlyphs">10:00</text>
<rect x="446" y="985" width="1" height="4" stroke="none"/>
<text x="445.7" y="996.95" textLength="9.4" lengthAdjust="spacingAndGlyphs">14</text>
<text x="458.8" y="996.95" textLength="17.2" lengthAdjust="spacingAndGlyphs">Nov</text>
<text x="479.7" y="996.95" textLength="22.8" lengthAdjust="spacingAndGlyphs">18:00</text>
<rect x="510" y="985" width="1" height="4" stroke="none"/>
<text x="509.7" y="996.95" textLength="9.4" lengthAdjust="spacingAndGlyphs">17</text>
<text x="522.8" y="996.95" textLength="17.2" lengthAdjust="spacingAndGlyphs">Nov</text>
<text x="543.7" y="996.95" textLength="22.8" lengthAdjust="spacingAndGlyphs">03:00</text>
<rect x="574" y="985" width="1" height="4" stroke="none"/>
<text x="573.7" y="996.95" textLength="9.4" lengthAdjust="spacingAndGlyphs">17</text>
<text x="586.8" y="996.95" textLength="17.2" lengthAdjust="spacingAndGlyphs">Nov</text>
<text x="607.7" y="996.95" textLength="22.8" lengthAdjust="spacingAndGlyphs">11:00</text>
<rect x="638" y="985" width="1" height="4" stroke="none"/>
<text x="637.7" y="996.95" textLength="9.4" lengthAdjust="spacingAndGlyphs">17</text>
<text x="650.8" y="996.95" textLength="17.2" lengthAdjust="spacingAndGlyphs">Nov</text>
<text x="671.7" y="996.95" textLength="22.8" lengthAdjust="spacingAndGlyphs">19:00</text>
<rect x="702" y="985" width="1" height="4" stroke="none"/>
<text x="701.7" y="996.95" textLength="9.4" lengthAdjust="spacingAndGlyphs">18</text>
<text x="714.8" y="996.95" textLength="17.2" lengthAdjust="spacingAndGlyphs">Nov</text>
<text x="735.7" y="996.95" textLength="22.8" lengthAdjust="spacingAndGlyphs">04:00</text>
<rect x="766" y="985" width="1" height="4" stroke="none"/>
<text x="765.7" y="996.95" textLength="9.4" lengthAdjust="spacingAndGlyphs">18</text>
<text x="778.8" y="996.95" textLength="17.2" lengthAdjust="spacingAndGlyphs">Nov</text>
<text x="799.7" y="996.95" textLength="22.8" lengthAdjust="spacingAndGlyphs">12:00</text>
<rect x="830" y="985" width="1" height="4" stroke="none"/>
<text x="829.7" y="996.95" textLength="9.4" lengthAdjust="spacingAndGlyphs">18</text>
<text x="842.8" y="996.95" textLength="17.2" lengthAdjust="spacingAndGlyphs">Nov</text>
<text x="863.7" y="996.95" textLength="22.8" lengthAdjust="spacingAndGlyphs">20:00</text>
<rect x="894" y="985" width="1" height="4" stroke="none"/>
<text x="893.7" y="996.95" textLength="9.4" lengthAdjust="spacingAndGlyphs">19</text>
<text x="906.8" y="996.95" textLength="17.2" lengthAdjust="spacingAndGlyphs">Nov</text>
<text x="927.7" y="996.95" textLength="22.8" lengthAdjust="spacingAndGlyphs">05:00</text>
<rect x="958" y="985" width="1" height="4" stroke="none"/>
<text x="957.7" y="996.95" textLength="9.4" lengthAdjust="spacingAndGlyphs">19</text>
<text x="970.8" y="996.95" textLength="17.2" lengthAdjust="spacingAndGlyphs">Nov</text>
<text x="991.7" y="996.95" textLength="22.8" lengthAdjust="spacingAndGlyphs">13:00</text>
<rect x="1022" y="985" width="1" height="4" stroke="none"/>
<text x="1021.7" y="996.95" textLength="9.4" lengthAdjust="spacingAndGlyphs">19</text>
<text x="1034.8" y="996.95" textLength="17.2" lengthAdjust="spacingAndGlyphs">Nov</text>
<text x="1055.7" y="996.95" textLength="22.8" lengthAdjust="spacingAndGlyphs">21:00</text>
<rect x="1086" y="985" width="1" height="4" stroke="none"/>
<text x="1085.7" y="996.95" textLength="9.4" lengthAdjust="spacingAndGlyphs">20</text>
<text x="1098.8" y="996.95" textLength="17.2" lengthAdjust="spacingAndGlyphs">Nov</text>
<text x="1119.7" y="996.95" textLength="22.8" lengthAdjust="spacingAndGlyphs">06:00</text>
<rect x="1150" y="985" width="1" height="4" stroke="none"/>
<text x="1149.7" y="996.95" textLength="9.4" lengthAdjust="spacingAndGlyphs">20</text>
<text x="1162.8" y="996.95" textLength="17.2" lengthAdjust="spacingAndGlyphs">Nov</text>
<text x="1183.7" y="996.95" textLength="22.8" lengthAdjust="spacingAndGlyphs">14:00</text>
<rect x="1214" y="985" width="1" height="4" stroke="none"/>
<text x="1213.7" y="996.95" textLength="9.4" lengthAdjust="spacingAndGlyphs">20</text>
<text x="1226.8" y="996.95" textLength="17.2" lengthAdjust="spacingAndGlyphs">Nov</text>
<text x="1247.7" y="996.95" textLength="22.8" lengthAdjust="spacingAndGlyphs">22:00</text>
<rect x="1278" y="985" width="1" height="4" stroke="none"/>
<text x="1277.7" y="996.95" textLength="9.4" lengthAdjust="spacingAndGlyphs">21</text>
<text x="1290.8" y="996.95" textLength="17.2" lengthAdjust="spacingAndGlyphs">Nov</text>
<text x="1311.7" y="996.95" textLength="22.8" lengthAdjust="spacingAndGlyphs">07:00</text>
<rect x="1342" y="985" width="1" height="4" stroke="none"/>
<text x="1341.7" y="996.95" textLength="9.4" lengthAdjust="spacingAndGlyphs">21</text>
<text x="1354.8" y="996.95" textLength="17.2" lengthAdjust="spacingAndGlyphs">Nov</text>
<text x="1375.7" y="996.95" textLength="22.8" lengthAdjust="spacingAndGlyphs">15:00</text>
<rect x="1406" y="985" width="1" height="4" stroke="none"/>
<text x="1405.7" y="996.95" textLength="9.4" lengthAdjust="spacingAndGlyphs">21</text>
<text x="1418.8" y="996.95" textLength="17.2" lengthAdjust="spacingAndGlyphs">Nov</text>
<text x="1439.7" y="996.95" textLength="22.8" lengthAdjust="spacingAndGlyphs">23:00</text>
</g>
<text class="s k" x="2.7" y="9.95" textLength="46.8" lengthAdjust="spacingAndGlyphs">XAUUSD_,</text>
<text class="s k" x="52.2" y="9.95" textLength="15.8" lengthAdjust="spacingAndGlyphs">H1:</text>
<text class="s k" x="73.5" y="9.95" textLength="19.4" lengthAdjust="spacingAndGlyphs">Gold</text>
<text class="s k" x="96.2" y="9.95" textLength="9.2" lengthAdjust="spacingAndGlyphs">vs</text>
<text class="s k" x="108" y="9.95" textLength="13.3" lengthAdjust="spacingAndGlyphs">US</text>
<text class="s k" x="124" y="9.95" textLength="25" lengthAdjust="spacingAndGlyphs">Dollar</text>
<text class="c" transform="translate(355.4 89.2) scale(1.06 1)">黄</text>
<text class="c" transform="translate(389.1 89.2) scale(1.06 1)">金</text>
<text class="c" transform="translate(440.7 89.2) scale(1.06 1)">小</text>
<text class="c" transform="translate(471.8 89.2) scale(1.06 1)">时</text>
<text class="c" transform="translate(506.3 89.2) scale(1.06 1)">图</text>
<clipPath id="c1"><rect x="0" y="-30" width="13.2" height="26"/><rect x="7.9" y="-5" width="5.3" height="5.2"/></clipPath>
<g transform="translate(420.3 88.8) scale(1.15 1)"><text x="0" y="0" font-size="35.2" fill="#00f" clip-path="url(#c1)" style="font-family:'Liberation Sans',sans-serif;font-weight:bold">1</text></g>
</svg></body></html>
